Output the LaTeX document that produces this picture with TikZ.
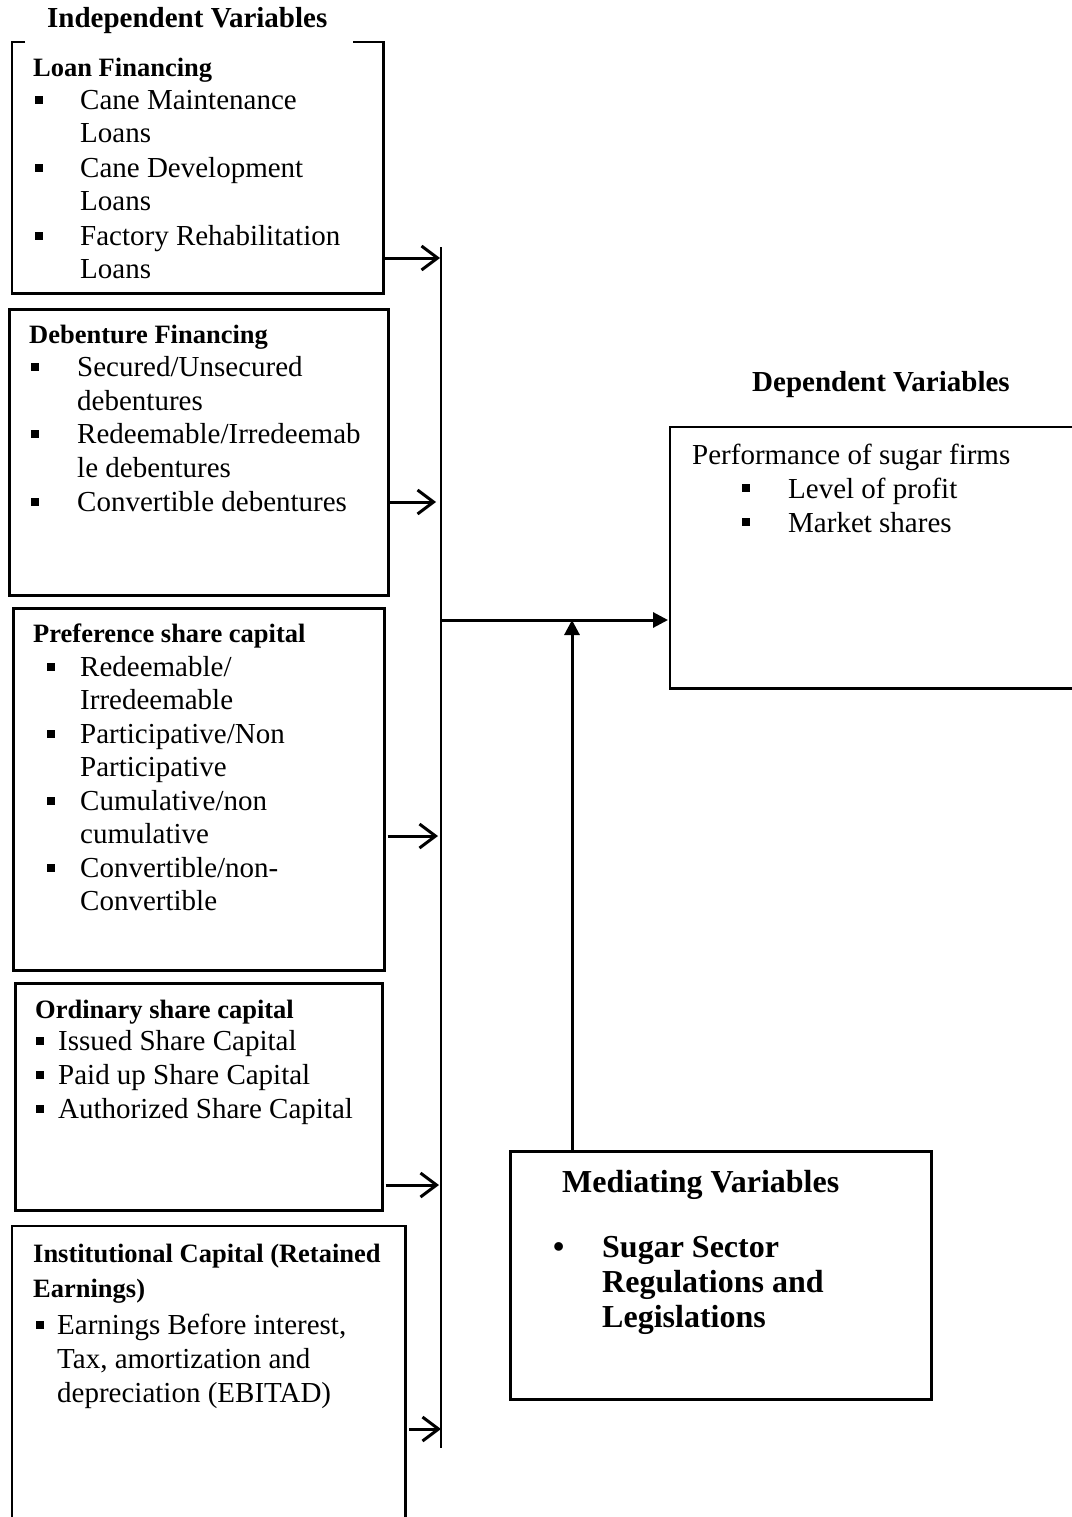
\documentclass[tikz,border=0pt]{standalone}
\usepackage{fontspec}
\setmainfont{Liberation Serif}
\usetikzlibrary{arrows.meta}
\newcommand{\sqbul}{\rule[5.5pt]{8pt}{8pt}}
\begin{document}
\begin{tikzpicture}[x=1pt,y=-1pt,
  boxline/.style={line width=2.5pt},
  frame/.style={draw=none,inner sep=0pt,anchor=north west},
  tx/.style={anchor=base west,inner sep=0pt,font=\fontsize{29}{33.5}\selectfont},
  hd/.style={anchor=base west,inner sep=0pt,font=\fontsize{26.5}{30}\selectfont\bfseries},
  ttl/.style={anchor=base west,inner sep=0pt,font=\fontsize{29}{33.5}\selectfont\bfseries},
  med/.style={anchor=base west,inner sep=0pt,font=\fontsize{32}{36}\selectfont\bfseries},
  openarr/.style={line width=3pt,-{Straight Barb[length=16pt,width=24pt,line width=3pt]}},
  fillarr/.style={line width=3pt,-{Triangle[length=15pt,width=15pt]}},
  busline/.style={line width=1.3pt}
]
\fill[white] (0,0) rectangle (1071,1517);
\useasboundingbox (0,0) rectangle (1071,1517);

% titles
\node[ttl] (indtitle) at (47,28) {Independent Variables};
\node[ttl] (deptitle) at (752,391) {Dependent Variables};

% box 1: loan financing (top border with a gap)
\node[frame,minimum width=371pt,minimum height=251pt] (loan) at (12,42) {};
\draw[boxline] ([xshift=13pt]loan.north west) -- (loan.north west) -- (loan.south west)
  -- (loan.south east) -- (loan.north east) -- ([xshift=-30pt]loan.north east);
\node[hd] (loanh) at (33,77) {Loan Financing};
\node[tx] (loan1) at (35,110) {\makebox[45pt][l]{\sqbul}Cane Maintenance};
\node[tx] (loan1b) at (80,143) {Loans};
\node[tx] (loan2) at (35,178) {\makebox[45pt][l]{\sqbul}Cane Development};
\node[tx] (loan2b) at (80,211) {Loans};
\node[tx] (loan3) at (35,245) {\makebox[45pt][l]{\sqbul}Factory Rehabilitation};
\node[tx] (loan3b) at (80,278) {Loans};

% box 2: debenture financing
\node[frame,draw,boxline,minimum width=379pt,minimum height=286pt] (deb) at (8,308) {};
\node[hd] (debh) at (29,343) {Debenture Financing};
\node[tx] (deb1) at (31,376) {\makebox[46pt][l]{\sqbul}Secured/Unsecured};
\node[tx] (deb1b) at (77,410) {debentures};
\node[tx] (deb2) at (31,443) {\makebox[46pt][l]{\sqbul}Redeemable/Irredeemab};
\node[tx] (deb2b) at (77,477) {le debentures};
\node[tx] (deb3) at (31,511) {\makebox[46pt][l]{\sqbul}Convertible debentures};

% box 3: preference share capital
\node[frame,draw,boxline,minimum width=371pt,minimum height=362pt] (pref) at (12,607) {};
\node[hd] (prefh) at (33,642) {Preference share capital};
\node[tx] (pref1) at (47,676) {\makebox[33pt][l]{\sqbul}Redeemable/};
\node[tx] (pref1b) at (80,709) {Irredeemable};
\node[tx] (pref2) at (47,743) {\makebox[33pt][l]{\sqbul}Participative/Non};
\node[tx] (pref2b) at (80,776) {Participative};
\node[tx] (pref3) at (47,810) {\makebox[33pt][l]{\sqbul}Cumulative/non};
\node[tx] (pref3b) at (80,843) {cumulative};
\node[tx] (pref4) at (47,877) {\makebox[33pt][l]{\sqbul}Convertible/non-};
\node[tx] (pref4b) at (80,910) {Convertible};

% box 4: ordinary share capital
\node[frame,draw,boxline,minimum width=367pt,minimum height=227pt] (ord) at (14,982) {};
\node[hd] (ordh) at (35,1018) {Ordinary share capital};
\node[tx] (ord1) at (36,1050) {\makebox[22pt][l]{\sqbul}Issued Share Capital};
\node[tx] (ord2) at (36,1084) {\makebox[22pt][l]{\sqbul}Paid up Share Capital};
\node[tx] (ord3) at (36,1118) {\makebox[22pt][l]{\sqbul}Authorized Share Capital};

% box 5: institutional capital (runs off the bottom)
\node[frame,minimum width=393pt,minimum height=320pt] (inst) at (12,1226) {};
\draw[boxline] (inst.south west) -- (inst.north west) -- (inst.north east) -- (inst.south east);
\node[hd] (insth) at (33,1262) {Institutional Capital (Retained};
\node[hd] (insthb) at (33,1297) {Earnings)};
\node[tx] (inst1) at (36,1334) {\makebox[21pt][l]{\sqbul}Earnings Before interest,};
\node[tx] (inst1b) at (57,1368) {Tax, amortization and};
\node[tx] (inst1c) at (57,1402) {depreciation (EBITAD)};

% dependent box (runs off the right edge)
\node[frame,minimum width=403pt,minimum height=261pt] (dep) at (670,427) {};
\draw[boxline] (dep.north east) -- (dep.north west) -- (dep.south west) -- (dep.south east);
\node[tx] (deph) at (692,464) {Performance of sugar firms};
\node[tx] (dep1) at (742,498) {\makebox[46pt][l]{\rule[6pt]{8pt}{8pt}}Level of profit};
\node[tx] (dep2) at (742,532) {\makebox[46pt][l]{\rule[6pt]{8pt}{8pt}}Market shares};

% mediating box
\node[frame,draw,boxline,minimum width=421pt,minimum height=248pt] (medbox) at (509,1150) {};
\node[med] (medh) at (562,1192) {Mediating Variables};
\node[med] (med1) at (553,1257) {\makebox[49pt][l]{•}Sugar Sector};
\node[med] (med1b) at (602,1292) {Regulations and};
\node[med] (med1c) at (602,1327) {Legislations};

% bus line and junctions
\coordinate (bustop) at (441,247);
\coordinate (busbot) at (441,1448);
\draw[busline] (bustop) -- (busbot);
\coordinate (b1) at (440,258);
\coordinate (b2) at (436,502);
\coordinate (b3) at (438,836);
\coordinate (b4) at (439,1185);
\coordinate (b5) at (441,1429);
\coordinate (bj) at (441,620);
\coordinate (mj) at (572,620);

\draw[openarr] ([xshift=2pt]loan.east |- b1) -- (b1);
\draw[openarr] (deb.east |- b2) -- (b2);
\draw[openarr] ([xshift=2pt]pref.east |- b3) -- (b3);
\draw[openarr] ([xshift=2pt]ord.east |- b4) -- (b4);
\draw[openarr] ([xshift=4pt]inst.east |- b5) -- (b5);

\draw[fillarr] (bj) -- ([xshift=-2pt]dep.west |- bj);
\draw[fillarr] (medbox.north -| mj) -- (mj);
\end{tikzpicture}
\end{document}
